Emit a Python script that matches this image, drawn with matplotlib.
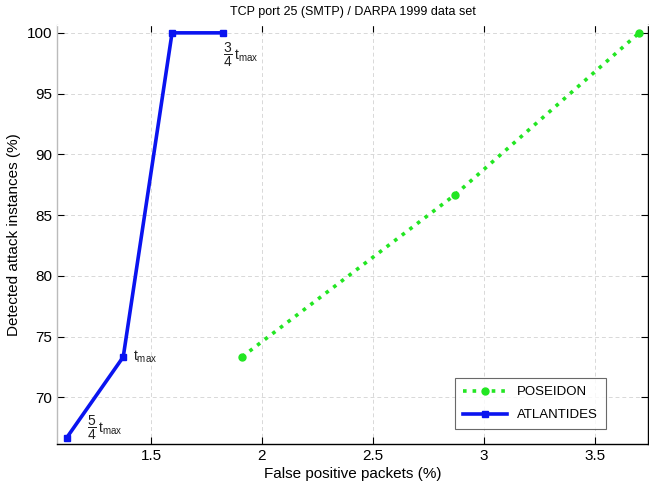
import matplotlib
matplotlib.use('Agg')
import matplotlib.pyplot as plt

plt.rcParams['font.family'] = ['Liberation Sans', 'DejaVu Sans']
plt.rcParams['mathtext.fontset'] = 'custom'
plt.rcParams['mathtext.rm'] = 'Liberation Sans'
plt.rcParams['mathtext.it'] = 'Liberation Sans'

# data
poseidon_x = [1.91, 2.87, 3.70]
poseidon_y = [73.33, 86.67, 100.0]
atlantides_x = [1.12, 1.375, 1.595, 1.825]
atlantides_y = [66.67, 73.33, 100.0, 100.0]
# labels next to some ATLANTIDES points (index, text)
point_labels = [(0, r'$\dfrac{5}{4}\,\mathregular{t_{max}}$'),
                (1, r'$\mathregular{t_{max}}$'),
                (3, r'$\dfrac{3}{4}\,\mathregular{t_{max}}$')]
xticks = [1.5, 2, 2.5, 3, 3.5]
yticks = [70, 75, 80, 85, 90, 95, 100]

fig = plt.figure(figsize=(6.49, 4.87), dpi=100)
ax = fig.add_axes([0.088, 0.088, 0.9105, 0.861])

ax.plot(poseidon_x, poseidon_y, ':', color='#22e622', lw=2.6,
        marker='o', ms=5, label='POSEIDON')
ax.plot(atlantides_x, atlantides_y, '-', color='#0a14f0', lw=2.6,
        marker='s', ms=5, mfc='#0a14f0', label='ATLANTIDES')

offsets = {0: (15, 7), 1: (7, 0), 3: (0, -16)}
for i, txt in point_labels:
    dx, dy = offsets[i]
    ax.annotate(txt, (atlantides_x[i], atlantides_y[i]), xytext=(dx, dy),
                textcoords='offset points', fontsize=10, color='#222222',
                ha='left', va='center')

ax.set_xlim(1.077, 3.74)
ax.set_ylim(66.15, 100.66)
ax.set_xticks(xticks)
ax.set_xticklabels(['1.5', '2', '2.5', '3', '3.5'])
ax.set_yticks(yticks)
ax.tick_params(direction='in', top=True, right=True, length=5,
               labelsize=11, width=0.8)
ax.grid(True, ls=(0, (4, 3)), color='#d8d8d8', lw=0.7)

ax.spines['top'].set_color('white')
ax.spines['left'].set_color('#bbbbbb')
ax.spines['bottom'].set_color('black')
ax.spines['right'].set_color('black')
for s in ax.spines.values():
    s.set_linewidth(1.0)

ax.set_title('TCP port 25 (SMTP) / DARPA 1999 data set', fontsize=9, pad=7)
ax.set_xlabel('False positive packets (%)', fontsize=11, labelpad=3)
ax.set_ylabel('Detected attack instances (%)', fontsize=11, labelpad=4)

leg = ax.legend(loc='lower right', bbox_to_anchor=(0.94, 0.02),
                fontsize=9.5, frameon=True, fancybox=False,
                edgecolor='#444444', handlelength=3.3, borderpad=0.6,
                labelspacing=0.8)
leg.get_frame().set_linewidth(0.8)

fig.savefig('out.png', dpi=100)
